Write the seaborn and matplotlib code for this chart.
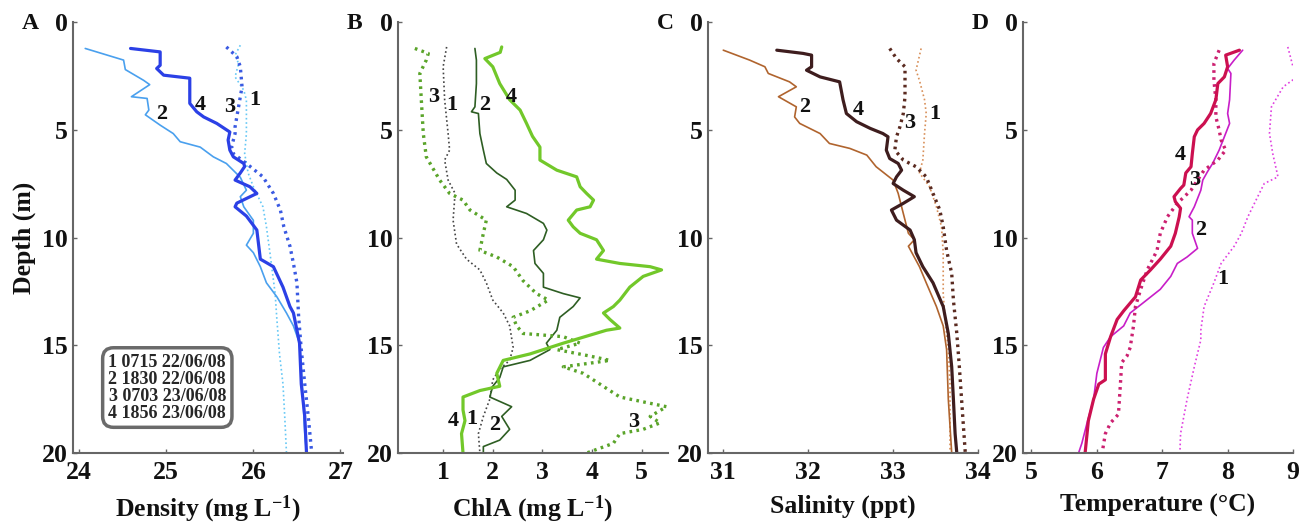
import numpy as np
import pandas as pd
import matplotlib
matplotlib.use('Agg')
import matplotlib.pyplot as plt
import seaborn as sns

# ---- Panel A: density profiles ----
dens_d1 = [1.07, 1.53, 1.92, 2.54, 3.16, 3.62, 5.17, 6.1, 7.0, 7.64, 8.57, 9.5, 10.7, 12.6, 13.8, 15.4, 16.8, 18.3, 20]
dens_v1 = [25.85, 25.79, 25.83, 25.79, 25.89, 25.92, 25.92, 25.9, 25.94, 26.0, 26.11, 26.15, 26.19, 26.25, 26.27, 26.3, 26.34, 26.36, 26.38]
dens_d2 = [1.22, 1.76, 2.2, 2.7, 2.9, 3.46, 3.54, 4.08, 4.3, 4.78, 5.17, 5.55, 5.8, 6.25, 6.56, 7.2, 7.8, 8.1, 8.57, 9.2,
           9.8, 10.35, 10.7, 11.35, 12.1, 12.75, 13.5, 14.1, 14.9, 16.0, 17.5, 19.1, 20]
dens_v2 = [24.07, 24.51, 24.53, 24.74, 24.81, 24.6, 24.78, 24.8, 24.76, 24.93, 25.08, 25.16, 25.39, 25.54, 25.69, 25.85,
           25.92, 25.85, 25.89, 26.0, 26.0, 25.92, 26.0, 26.08, 26.15, 26.27, 26.38, 26.46, 26.53, 26.55, 26.57, 26.59, 26.61]
dens_d3 = [1.15, 1.6, 2.07, 3.0, 3.93, 4.86, 5.17, 5.78, 6.1, 6.56, 7.18, 7.95, 8.72, 9.5, 10.4, 11.2, 12.1, 13.7, 15.2,
           16.8, 18.3, 20]
dens_v3 = [25.69, 25.81, 25.85, 25.87, 25.83, 25.79, 25.79, 25.75, 25.77, 25.92, 26.11, 26.23, 26.31, 26.35, 26.42,
           26.46, 26.5, 26.52, 26.55, 26.59, 26.63, 26.67]
dens_d4 = [1.22, 1.38, 2.0, 2.15, 2.46, 2.6, 3.77, 4.16, 4.4, 4.7, 5.1, 5.47, 5.94, 6.25, 6.56, 6.7, 7.0, 7.33, 7.64,
           7.95, 8.4, 8.57, 9.0, 9.65, 11.0, 11.35, 12.3, 13.2, 13.5, 14.9, 16.8, 18.3, 20]
dens_v4 = [24.59, 24.93, 24.93, 24.89, 24.97, 25.27, 25.27, 25.35, 25.43, 25.58, 25.73, 25.71, 25.73, 25.77, 25.89,
           25.9, 25.85, 25.79, 25.96, 26.04, 25.81, 25.79, 25.92, 26.04, 26.08, 26.23, 26.34, 26.42, 26.46, 26.53,
           26.55, 26.59, 26.61]

# ---- Panel B: ChlA profiles ----
chl_d1 = [1.15, 2.07, 3.6, 5.17, 5.94, 6.4, 7.33, 7.95, 9.19, 10.3, 11.0, 11.5, 12.1, 12.9, 13.5, 14.1, 15.1, 15.7,
          16.1, 16.6, 17.5, 18.3, 19.1, 20]
chl_v1 = [1.07, 1.0, 1.03, 1.1, 1.13, 1.03, 1.1, 1.24, 1.2, 1.27, 1.47, 1.74, 1.87, 2.0, 2.21, 2.34, 2.41, 2.34, 2.14,
          2.0, 1.94, 1.81, 1.71, 1.74]
chl_d2 = [1.22, 1.76, 2.85, 3.93, 4.16, 4.24, 5.17, 5.94, 6.56, 7.0, 7.3, 7.8, 8.26, 8.57, 8.88, 9.34, 9.65, 10.1,
          10.6, 11.2, 11.66, 12.3, 12.6, 12.8, 13.2, 13.7, 14.3, 14.9, 15.2, 15.7, 16.0, 16.5, 16.9, 17.4, 17.85,
          18.3, 18.9, 19.4, 19.7, 20]
chl_v2 = [1.64, 1.67, 1.67, 1.64, 1.57, 1.71, 1.74, 1.81, 1.87, 2.08, 2.28, 2.45, 2.45, 2.28, 2.68, 3.02, 3.09, 3.02,
          2.82, 2.85, 3.02, 3.02, 3.42, 3.76, 3.62, 3.35, 3.29, 3.08, 3.15, 2.75, 2.21, 2.14, 2.0, 1.94, 2.38, 2.18,
          2.34, 2.14, 1.81, 1.81]
chl_d3 = [1.22, 1.45, 1.76, 2.38, 3.6, 5.17, 6.25, 7.33, 7.95, 8.26, 8.72, 9.19, 9.8, 10.6, 10.9, 11.35, 12.0, 12.6,
          12.9, 13.4, 13.7, 14.1, 14.45, 14.6, 14.9, 15.2, 15.5, 15.7, 16.0, 16.3, 17.4, 17.85, 18.3, 18.6, 18.9,
          19.1, 19.55, 20]
chl_v3 = [0.43, 0.7, 0.66, 0.53, 0.56, 0.6, 0.66, 0.93, 1.13, 1.4, 1.54, 1.87, 1.81, 1.74, 2.08, 2.41, 2.61, 2.88,
          3.12, 2.75, 2.41, 2.48, 2.61, 3.42, 3.76, 3.29, 3.96, 4.36, 3.42, 3.82, 4.56, 5.5, 5.17, 5.37, 5.03, 4.56,
          4.43, 3.89]
chl_d4 = [1.15, 1.4, 1.69, 2.07, 2.85, 3.6, 4.08, 4.7, 5.3, 5.8, 6.4, 6.87, 7.18, 7.64, 7.95, 8.26, 8.57, 8.72, 9.19,
          9.5, 9.8, 10.1, 10.6, 11.0, 11.2, 11.35, 11.5, 11.8, 12.3, 12.9, 13.2, 13.5, 13.8, 14.2, 14.3, 14.9, 15.4,
          15.7, 16.3, 16.9, 17.1, 17.4, 18.0, 18.5, 19.1, 20]
chl_v4 = [2.18, 2.15, 1.84, 2.0, 2.14, 2.34, 2.55, 2.68, 2.8, 2.95, 2.95, 3.29, 3.69, 3.76, 3.89, 4.03, 3.96, 3.69,
          3.52, 3.62, 3.76, 4.09, 4.23, 4.09, 4.56, 5.17, 5.4, 5.03, 4.76, 4.56, 4.43, 4.23, 4.36, 4.56, 4.29, 3.42,
          2.75, 2.21, 2.08, 2.14, 1.74, 1.4, 1.4, 1.44, 1.37, 1.4]

# ---- Panel C: salinity profiles ----
sal_d1 = [1.22, 2.23, 2.7, 3.6, 4.24, 5.17, 6.4, 7.0, 7.64, 8.57, 9.5, 10.7, 12.6, 13.7, 15.2, 16.8, 20]
sal_v1 = [33.33, 33.27, 33.31, 33.37, 33.39, 33.37, 33.35, 33.31, 33.43, 33.51, 33.57, 33.59, 33.59, 33.61, 33.65,
          33.67, 33.67]
sal_d2 = [1.3, 1.76, 2.07, 2.38, 2.77, 3.0, 3.46, 3.93, 4.4, 4.7, 5.17, 5.63, 5.86, 6.17, 6.71, 7.33, 7.95, 8.88, 9.8,
          10.1, 10.4, 11.35, 12.1, 13.2, 14.1, 15.2, 17.5, 20]
sal_v2 = [31.0, 31.31, 31.49, 31.53, 31.78, 31.86, 31.65, 31.86, 31.84, 31.9, 32.14, 32.25, 32.49, 32.69, 32.8, 33.0,
          33.06, 33.12, 33.18, 33.25, 33.18, 33.31, 33.39, 33.51, 33.59, 33.63, 33.65, 33.69]
sal_d3 = [1.22, 1.69, 2.07, 3.46, 4.24, 4.86, 5.32, 5.94, 6.4, 6.71, 7.18, 7.95, 8.72, 9.5, 10.6, 11.66, 12.9, 14.45,
          16.0, 18.3, 20]
sal_v3 = [32.96, 33.04, 33.14, 33.14, 33.12, 33.08, 33.04, 33.02, 33.12, 33.27, 33.39, 33.47, 33.55, 33.59, 33.63,
          33.69, 33.71, 33.75, 33.78, 33.82, 33.85]
sal_d4 = [1.3, 1.45, 1.53, 2.07, 2.23, 2.54, 2.77, 3.6, 4.24, 4.62, 4.93, 5.17, 5.32, 5.94, 6.33, 6.56, 6.87, 7.18,
          7.49, 7.8, 8.1, 8.41, 8.72, 9.19, 9.65, 10.1, 10.7, 11.35, 12.1, 13.2, 14.45, 16.0, 17.5, 19.1, 20]
sal_v4 = [31.63, 31.94, 32.04, 32.04, 31.98, 32.14, 32.37, 32.41, 32.45, 32.57, 32.73, 32.88, 32.94, 32.92, 32.96,
          33.06, 33.1, 33.04, 33.0, 33.12, 33.25, 33.12, 32.98, 33.04, 33.2, 33.25, 33.27, 33.35, 33.47, 33.59,
          33.65, 33.69, 33.71, 33.73, 33.75]

# ---- Panel D: temperature profiles ----
temp_d1 = [1.15, 2.07, 2.46, 3.0, 3.93, 5.17, 6.1, 7.18, 7.49, 8.1, 9.03, 9.8, 10.4, 11.2, 12.1, 13.2, 14.3, 14.75,
           16.0, 17.5, 19.1, 20]
temp_v1 = [8.92, 9.0, 9.1, 8.85, 8.67, 8.64, 8.69, 8.77, 8.56, 8.46, 8.31, 8.21, 8.1, 7.9, 7.79, 7.64, 7.59, 7.59,
           7.49, 7.38, 7.28, 7.27]
temp_d2 = [1.3, 1.76, 2.15, 2.38, 3.6, 4.24, 4.7, 5.32, 5.94, 6.56, 6.95, 7.33, 7.8, 8.57, 9.03, 9.19, 9.8, 10.5,
           10.9, 11.2, 11.8, 12.4, 13.0, 13.5, 14.1, 14.6, 15.1, 16.3, 17.5, 18.6, 19.55, 20]
temp_v2 = [8.23, 8.1, 8.0, 8.05, 8.03, 8.0, 8.03, 7.95, 7.87, 7.77, 7.69, 7.62, 7.59, 7.49, 7.41, 7.46, 7.46, 7.54,
           7.38, 7.23, 7.13, 6.97, 6.72, 6.51, 6.41, 6.21, 6.1, 6.0, 5.95, 5.85, 5.77, 5.72]
temp_d3 = [1.3, 1.92, 2.7, 3.6, 4.4, 5.0, 5.47, 5.94, 6.4, 6.87, 7.33, 7.8, 8.41, 9.03, 9.8, 10.6, 11.5, 12.4, 13.2,
           14.1, 15.1, 15.5, 15.8, 16.8, 18.2, 18.6, 19.1, 20]
temp_v3 = [7.87, 7.79, 7.79, 7.82, 7.82, 7.87, 7.9, 7.97, 7.85, 7.64, 7.54, 7.44, 7.23, 7.08, 6.97, 6.92, 6.77, 6.67,
           6.59, 6.56, 6.51, 6.46, 6.38, 6.36, 6.33, 6.21, 6.13, 6.08]
temp_d4 = [1.3, 1.53, 2.07, 2.54, 2.85, 3.6, 4.24, 4.7, 5.0, 5.32, 6.1, 6.71, 7.0, 7.56, 7.72, 8.1, 8.33, 8.64, 9.03,
           9.8, 10.4, 11.0, 11.5, 11.97, 12.75, 13.4, 13.8, 14.6, 15.4, 16.6, 16.8, 17.5, 18.5, 20]
temp_v4 = [8.18, 7.97, 8.0, 7.95, 7.85, 7.82, 7.74, 7.64, 7.54, 7.49, 7.46, 7.44, 7.36, 7.33, 7.28, 7.18, 7.2, 7.28,
           7.26, 7.2, 7.13, 6.97, 6.82, 6.67, 6.59, 6.41, 6.31, 6.21, 6.13, 6.13, 6.03, 5.95, 5.87, 5.82]

legend_lines = ['1 0715 22/06/08', '2 1830 22/06/08', '3 0703 23/06/08', '4 1856 23/06/08']

sns.set_style('ticks')
plt.rcParams['font.family'] = ['Liberation Serif', 'DejaVu Serif']
plt.rcParams['font.weight'] = 'bold'
plt.rcParams['mathtext.fontset'] = 'custom'
plt.rcParams['mathtext.rm'] = 'Liberation Serif:bold'
plt.rcParams['mathtext.bf'] = 'Liberation Serif:bold'
plt.rcParams['mathtext.default'] = 'rm'

fig = plt.figure(figsize=(13.07, 5.28), dpi=100)

# line styles for thin dotted / thin solid / thick dotted / thick solid
thin_dot = dict(linewidth=1.2, linestyle=(0, (1, 1.6)))
thin_sol = dict(linewidth=1.2, linestyle='-')
thick_dot = dict(linewidth=2.4, linestyle=(0, (0.8, 1.3)))
thick_sol = dict(linewidth=2.3, linestyle='-')

panels = [
    dict(letter='A', left=0.0559, xlim=(23.93, 27.03), xticks=[24, 25, 26, 27],
         xlabel='Density (mg L$^{-1}$)',
         series=[(dens_v1, dens_d1, '#66c8f5', thin_dot), (dens_v2, dens_d2, '#4aa0ee', thin_sol),
                 (dens_v3, dens_d3, '#3a5ae2', thick_dot), (dens_v4, dens_d4, '#2b40e6', thick_sol)],
         labels=[('2', 24.95, 4.24), ('4', 25.39, 3.85), ('3', 25.73, 3.93), ('1', 26.02, 3.62)]),
    dict(letter='B', left=0.3045, xlim=(0.09, 5.53), xticks=[1, 2, 3, 4, 5],
         xlabel='ChlA (mg L$^{-1}$)',
         series=[(chl_v1, chl_d1, '#444444', thin_dot), (chl_v2, chl_d2, '#2e5e23', thin_sol),
                 (chl_v3, chl_d3, '#5aa42a', thick_dot), (chl_v4, chl_d4, '#72c82a', thick_sol)],
         labels=[('3', 0.8, 3.46), ('1', 1.17, 3.85), ('2', 1.84, 3.85), ('4', 2.38, 3.46),
                 ('4', 1.2, 18.5), ('1', 1.57, 18.4), ('2', 2.04, 18.7), ('3', 4.83, 18.55)]),
    dict(letter='C', left=0.5417, xlim=(30.82, 34.0), xticks=[31, 32, 33, 34],
         xlabel='Salinity (ppt)',
         series=[(sal_v1, sal_d1, '#d8905a', thin_dot), (sal_v2, sal_d2, '#b0642e', thin_sol),
                 (sal_v3, sal_d3, '#5a2a20', thick_dot), (sal_v4, sal_d4, '#3e1d1e', thick_sol)],
         labels=[('2', 31.96, 3.93), ('4', 32.59, 4.08), ('3', 33.2, 4.7), ('1', 33.49, 4.24)]),
    dict(letter='D', left=0.7827, xlim=(4.87, 9.0), xticks=[5, 6, 7, 8, 9],
         xlabel='Temperature (°C)',
         series=[(temp_v1, temp_d1, '#e040e0', thin_dot), (temp_v2, temp_d2, '#c81ec8', thin_sol),
                 (temp_v3, temp_d3, '#cc2070', thick_dot), (temp_v4, temp_d4, '#cc1050', thick_sol)],
         labels=[('4', 7.28, 6.17), ('3', 7.49, 7.33), ('2', 7.59, 9.65), ('1', 7.92, 11.9)]),
]

for p in panels:
    ax = fig.add_axes([p['left'], 0.142, 0.2066, 0.816])
    for vals, depths, col, st in p['series']:
        sns.lineplot(x=vals, y=depths, sort=False, estimator=None, color=col, ax=ax, **st)
    for txt, lx, ly in p['labels']:
        ax.text(lx, ly, txt, fontsize=16, fontweight='bold', ha='center', va='center', color='#111111')
    ax.set_xlim(*p['xlim'])
    ax.set_ylim(20, 0)
    ax.set_xticks(p['xticks'])
    ax.set_yticks([0, 5, 10, 15, 20])
    sns.despine(ax=ax)
    for s in ['left', 'bottom']:
        ax.spines[s].set_color('#666666')
        ax.spines[s].set_linewidth(1.5)
    ax.tick_params(direction='in', length=3, width=1, color='#666666', labelsize=18.5, labelcolor='#111111')
    ax.tick_params(axis='x', pad=6)
    ax.tick_params(axis='y', pad=4)
    for lab in ax.get_xticklabels() + ax.get_yticklabels():
        lab.set_fontweight('bold')
    ax.set_xlabel(p['xlabel'], fontsize=18.5, fontweight='bold', labelpad=7, color='#111111')
    if p['letter'] == 'A':
        ax.set_ylabel('Depth (m)', fontsize=18.5, fontweight='bold', labelpad=4, color='#111111')
        ax.text(0.349, 0.152, '\n'.join(legend_lines), transform=ax.transAxes, fontsize=13,
                fontweight='bold', ha='center', va='center', linespacing=1.0,
                bbox=dict(boxstyle='round,pad=0.32,rounding_size=0.6', facecolor='white',
                          edgecolor='#6a6a6a', linewidth=2.5))
    else:
        ax.set_ylabel('')
    fig.text(p['left'] - 0.0395, 0.955, p['letter'], fontsize=17, fontweight='bold',
             ha='left', va='center', color='#111111')

fig.savefig('out.png', dpi=100)
